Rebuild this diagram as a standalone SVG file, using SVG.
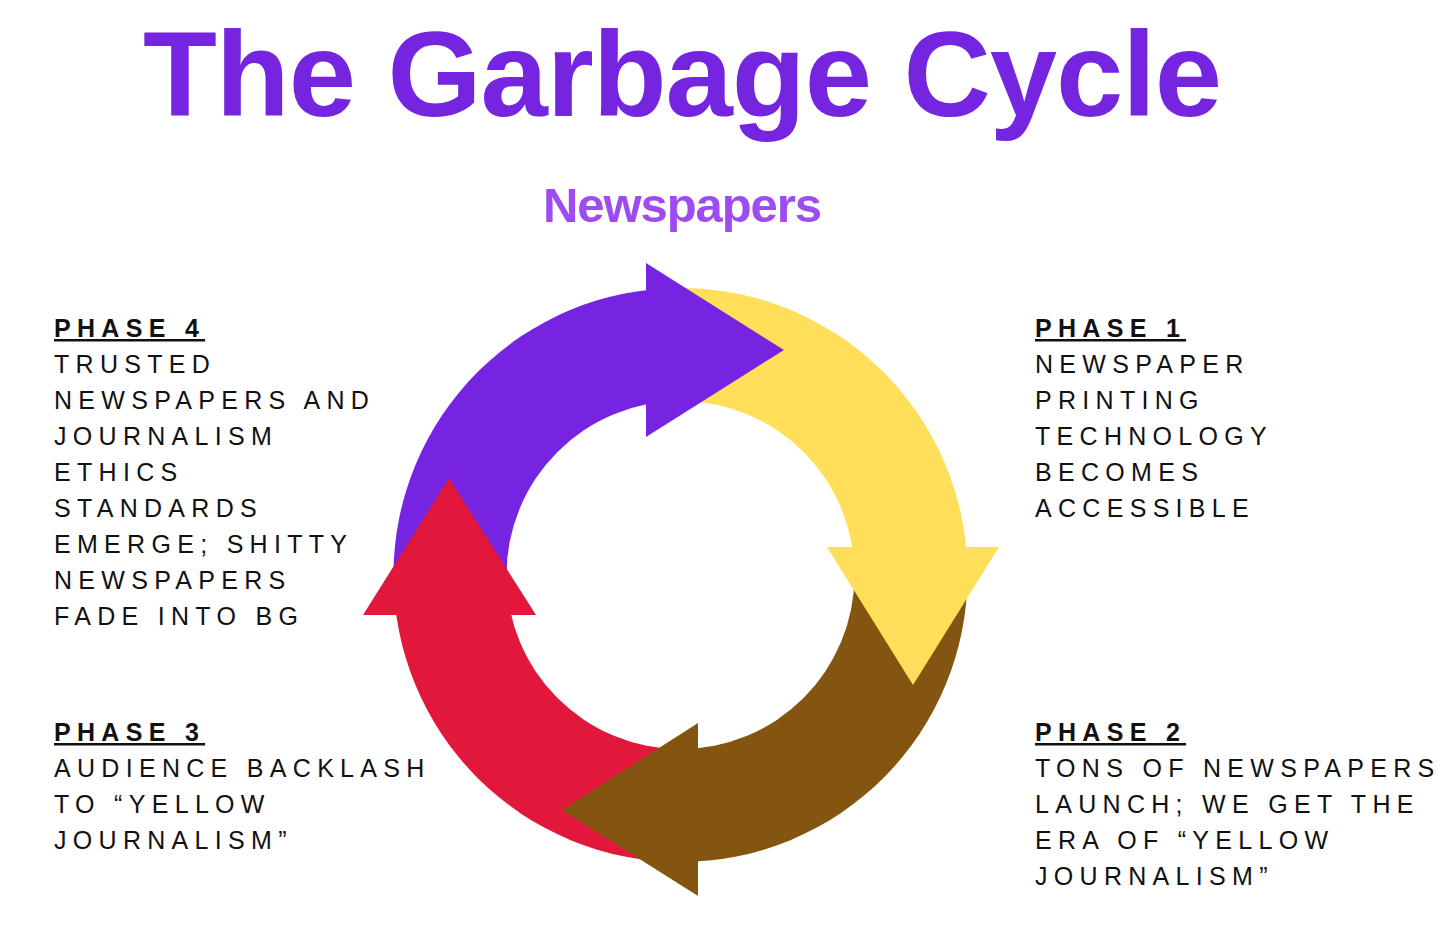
<svg xmlns="http://www.w3.org/2000/svg" width="1456" height="934" viewBox="0 0 1456 934">
<style>
.title{font-family:"Liberation Sans",Arial,sans-serif;font-weight:bold;fill:#7524E0}
.sub{font-family:"Liberation Sans",Arial,sans-serif;font-weight:bold;fill:#9E4CF2}
.body{font-family:"Liberation Sans",Arial,sans-serif;font-size:25px;letter-spacing:6.3px;fill:#111111}
.head{font-weight:bold;text-decoration:underline}
.purple{fill:#7624E1}
.yellow{fill:#FFDE59}
.brown{fill:#845510}
.red{fill:#E1183B}
</style>
<rect width="1456" height="934" fill="#ffffff"/>
<text class="title" x="143" y="116" font-size="121" textLength="1079">The Garbage Cycle</text>
<text class="sub" x="543" y="222" font-size="49" textLength="279">Newspapers</text>

<g id="cycle">
  <g id="bands">
    <path class="purple" d="M393.5,575 A287,287 0 0 1 680.5,288 L680.5,401 A174,174 0 0 0 506.5,575 Z"/>
    <path class="yellow" d="M680.5,288 A287,287 0 0 1 967.5,575 L854.5,575 A174,174 0 0 0 680.5,401 Z"/>
    <path class="brown" d="M967.5,575 A287,287 0 0 1 680.5,862 L680.5,749 A174,174 0 0 0 854.5,575 Z"/>
    <path class="red" d="M680.5,862 A287,287 0 0 1 393.5,575 L506.5,575 A174,174 0 0 0 680.5,749 Z"/>
  </g>
  <g id="heads">
    <polygon class="purple" points="646,263 646,437 784,350"/>
    <polygon class="yellow" points="827,547 999,547 913,685"/>
    <polygon class="brown" points="698,723 698,896 562,810"/>
    <polygon class="red" points="363,615 536,615 449,478"/>
  </g>
</g>

<g id="phase1">
  <text class="body head" x="1035" y="337">PHASE 1</text>
  <text class="body" x="1035" y="373">NEWSPAPER</text>
  <text class="body" x="1035" y="409">PRINTING</text>
  <text class="body" x="1035" y="445">TECHNOLOGY</text>
  <text class="body" x="1035" y="481">BECOMES</text>
  <text class="body" x="1035" y="517">ACCESSIBLE</text>
</g>
<g id="phase2">
  <text class="body head" x="1035" y="741">PHASE 2</text>
  <text class="body" x="1035" y="777">TONS OF NEWSPAPERS</text>
  <text class="body" x="1035" y="813">LAUNCH; WE GET THE</text>
  <text class="body" x="1035" y="849">ERA OF “YELLOW</text>
  <text class="body" x="1035" y="885">JOURNALISM”</text>
</g>
<g id="phase3">
  <text class="body head" x="54" y="741">PHASE 3</text>
  <text class="body" x="54" y="777">AUDIENCE BACKLASH</text>
  <text class="body" x="54" y="813">TO “YELLOW</text>
  <text class="body" x="54" y="849">JOURNALISM”</text>
</g>
<g id="phase4">
  <text class="body head" x="54" y="337">PHASE 4</text>
  <text class="body" x="54" y="373">TRUSTED</text>
  <text class="body" x="54" y="409">NEWSPAPERS AND</text>
  <text class="body" x="54" y="445">JOURNALISM</text>
  <text class="body" x="54" y="481">ETHICS</text>
  <text class="body" x="54" y="517">STANDARDS</text>
  <text class="body" x="54" y="553">EMERGE; SHITTY</text>
  <text class="body" x="54" y="589">NEWSPAPERS</text>
  <text class="body" x="54" y="625">FADE INTO BG</text>
</g>
</svg>
